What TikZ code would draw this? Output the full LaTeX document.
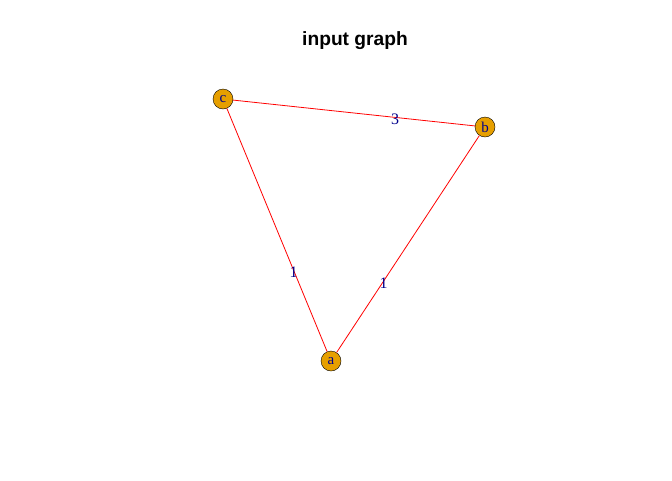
\documentclass[tikz,border=0pt]{standalone}
\usepackage{fontspec}
\setmainfont{Liberation Serif}
\newfontfamily\titlefont{Liberation Sans}
\definecolor{vorange}{HTML}{E69F00}
\definecolor{lblue}{HTML}{00008B}
\tikzset{
    vertex/.style={
        draw=black,
        circle,
        fill=vorange,
        minimum size=20pt,
        inner sep=0pt,
        text=lblue,
        font=\fontsize{15}{15}\selectfont
    },
    link/.style={
        draw=red,
        line width=0.8pt
    },
    weight/.style={
        text=lblue,
        inner sep=0pt,
        yshift=-2pt,
        font=\fontsize{16}{16}\selectfont
    },
}
\begin{document}
\begin{tikzpicture}[x=1pt, y=-1pt]
        \useasboundingbox (0,0) rectangle (672,480);
        % title
        \node[font=\titlefont\bfseries\fontsize{19.2}{19.2}\selectfont] (title) at (355,41) {input graph};

        % vertices
        \node[vertex] (c) at (223,99) {c};
        \node[vertex] (b) at (485,127) {b};
        \node[vertex] (a) at (331,361) {a};

        % edges
        \draw[link] (c) -- node[weight, pos=0.67] {3} (b);
        \draw[link] (c) -- node[weight, pos=0.665] {1} (a);
        \draw[link] (b) -- node[weight, pos=0.67] {1} (a);
    \end{tikzpicture}
\end{document}
